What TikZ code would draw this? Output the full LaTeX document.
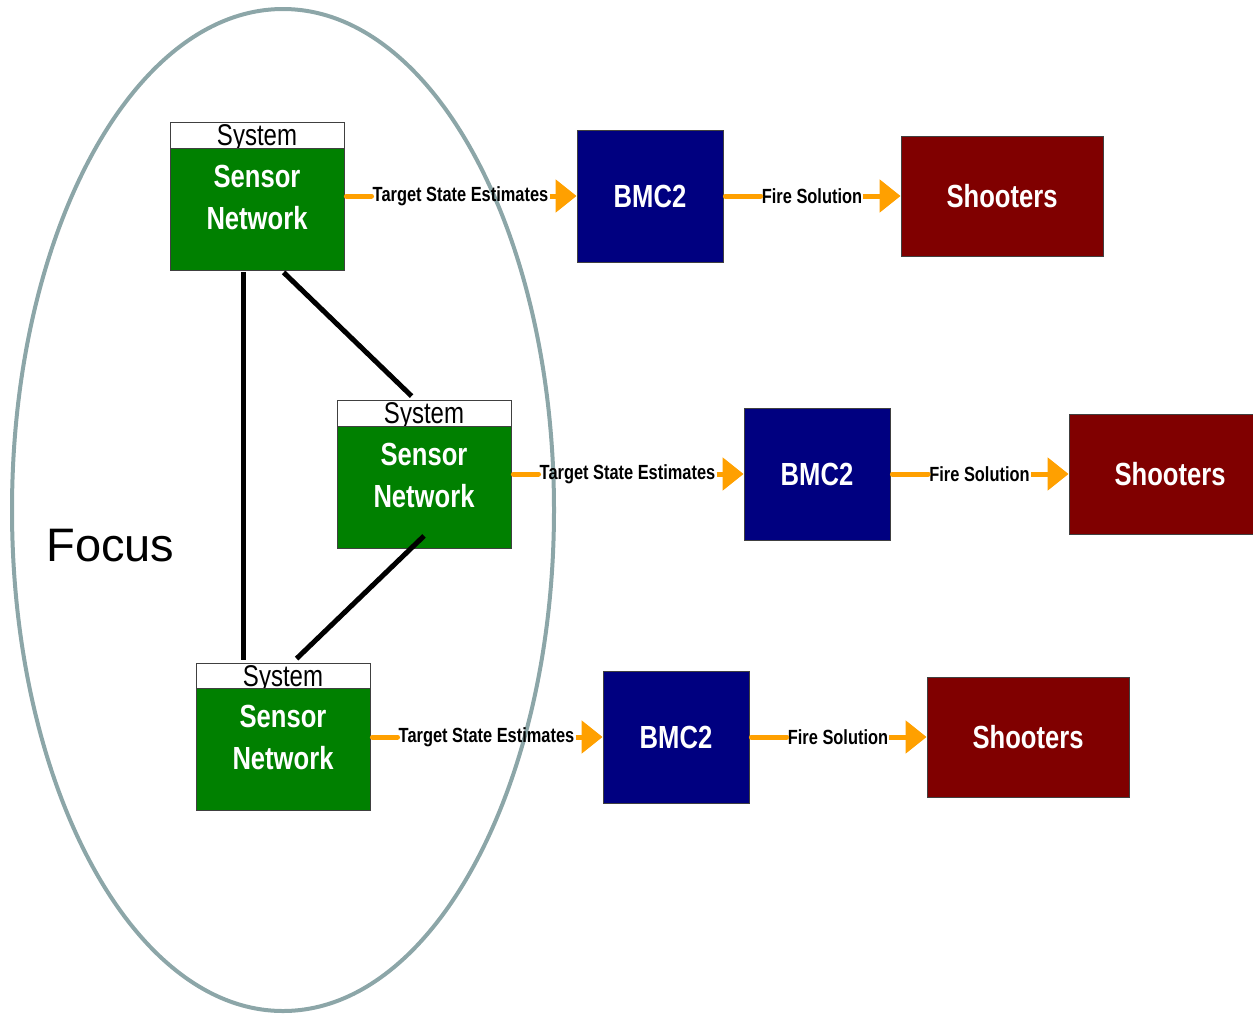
\documentclass[tikz,border=0pt]{standalone}
\usepackage{fontspec}
\setmainfont{Liberation Sans}
\newfontfamily\narrowfont[FakeStretch=0.8]{Liberation Sans}
\usetikzlibrary{arrows.meta,calc}
\definecolor{sgreen}{RGB}{0,128,0}
\definecolor{snavy}{RGB}{0,0,128}
\definecolor{smaroon}{RGB}{128,0,0}
\definecolor{sorange}{RGB}{255,160,0}
\definecolor{sgray}{RGB}{140,166,168}
\begin{document}
\begin{tikzpicture}[x=1pt,y=-1pt,
  hdr/.style={draw=black!75,line width=0.8pt,fill=white,minimum width=174pt,minimum height=26pt,inner sep=0pt,
    font=\narrowfont\fontsize{30}{30}\selectfont,text depth=0pt},
  snbox/.style={draw=black!75,line width=0.8pt,fill=sgreen,minimum width=174pt,minimum height=122pt,inner sep=0pt},
  sntext/.style={text=white,align=center,inner sep=0pt,font=\narrowfont\bfseries\fontsize{32}{42}\selectfont},
  bmcbox/.style={draw=black!75,line width=0.8pt,fill=snavy,minimum width=146pt,minimum height=132pt,inner sep=0pt,
    text=white,font=\narrowfont\bfseries\fontsize{32}{38}\selectfont},
  shbox/.style={draw=black!75,line width=0.8pt,fill=smaroon,minimum width=202pt,minimum height=120pt,inner sep=0pt,
    text=white,font=\narrowfont\bfseries\fontsize{32}{38}\selectfont},
  lab/.style={inner sep=0pt,font=\narrowfont\bfseries\fontsize{20.5}{24}\selectfont},
  oline/.style={draw=sorange,line width=5pt,line cap=round},
  oarrow/.style={draw=sorange,line width=5pt,-{Triangle[length=21pt,width=32pt]}},
  link/.style={draw=black,line width=5pt}]
\useasboundingbox (0,0) rectangle (1253,1013);
\clip (0,0) rectangle (1253,1013);
% focus ellipse
\draw[sgray,line width=4pt] (283,510) ellipse [x radius=271, y radius=501];
\node[font=\fontsize{47}{50}\selectfont,anchor=base] (focus) at (110.5,561) {Focus};
% sensor systems
\node[hdr] (h1) at (257,135) {System};
\node[snbox] (sn1) at (257,209) {};
\node[sntext] (sn1t) at (257,197) {Sensor\\Network};
\node[hdr] (h2) at (424,413.5) {System};
\node[snbox] (sn2) at (424,487.5) {};
\node[sntext] (sn2t) at (424,475.5) {Sensor\\Network};
\node[hdr] (h3) at (283,676) {System};
\node[snbox] (sn3) at (283,749.5) {};
\node[sntext] (sn3t) at (283,737.5) {Sensor\\Network};
% links
\draw[link] ([xshift=74pt,yshift=-2pt]sn1.south west) -- ([xshift=48pt,yshift=3pt]h3.north west);
\draw[link] ([xshift=114pt,yshift=-2pt]sn1.south west) -- ([xshift=75pt,yshift=4pt]h2.north west);
\draw[link] ([yshift=13pt]sn2.south) -- ([xshift=101pt,yshift=4pt]h3.north west);
% BMC2 and shooters
\node[bmcbox] (b1) at (650,196) {BMC2};
\node[bmcbox] (b2) at (817,474) {BMC2};
\node[bmcbox] (b3) at (676,737) {BMC2};
\node[shbox] (s1) at (1002,196) {Shooters};
\node[shbox] (s2) at (1170,474.5) {Shooters};
\node[shbox] (s3) at (1028,737) {Shooters};
% labels
\node[lab] (t1) at ($(sn1.east |- b1)!0.5!(b1.west)$) {Target State Estimates};
\node[lab] (t2) at ($(sn2.east |- b2)!0.5!(b2.west)$) {Target State Estimates};
\node[lab] (t3) at ($(sn3.east |- b3)!0.5!(b3.west)$) {Target State Estimates};
\node[lab] (f1) at ($(b1.east)!0.5!(s1.west |- b1)$) {Fire Solution};
\node[lab] (f2) at ($(b2.east)!0.5!(s2.west |- b2)$) {Fire Solution};
\node[lab] (f3) at ($(b3.east)!0.5!(s3.west |- b3)$) {Fire Solution};
% arrows
\foreach \a/\t/\b in {sn1/t1/b1, sn2/t2/b2, sn3/t3/b3}{
  \draw[oline] ([xshift=2pt]\a.east |- \b) -- ([xshift=-1pt]\t.west);
  \draw[oarrow] ([xshift=1pt]\t.east) -- (\b.west);
}
\foreach \a/\t/\b in {b1/f1/s1, b2/f2/s2, b3/f3/s3}{
  \draw[oline] ([xshift=2pt]\a.east) -- ([xshift=-1pt]\t.west);
  \draw[oarrow] ([xshift=1pt]\t.east) -- (\b.west |- \a);
}
\end{tikzpicture}
\end{document}
